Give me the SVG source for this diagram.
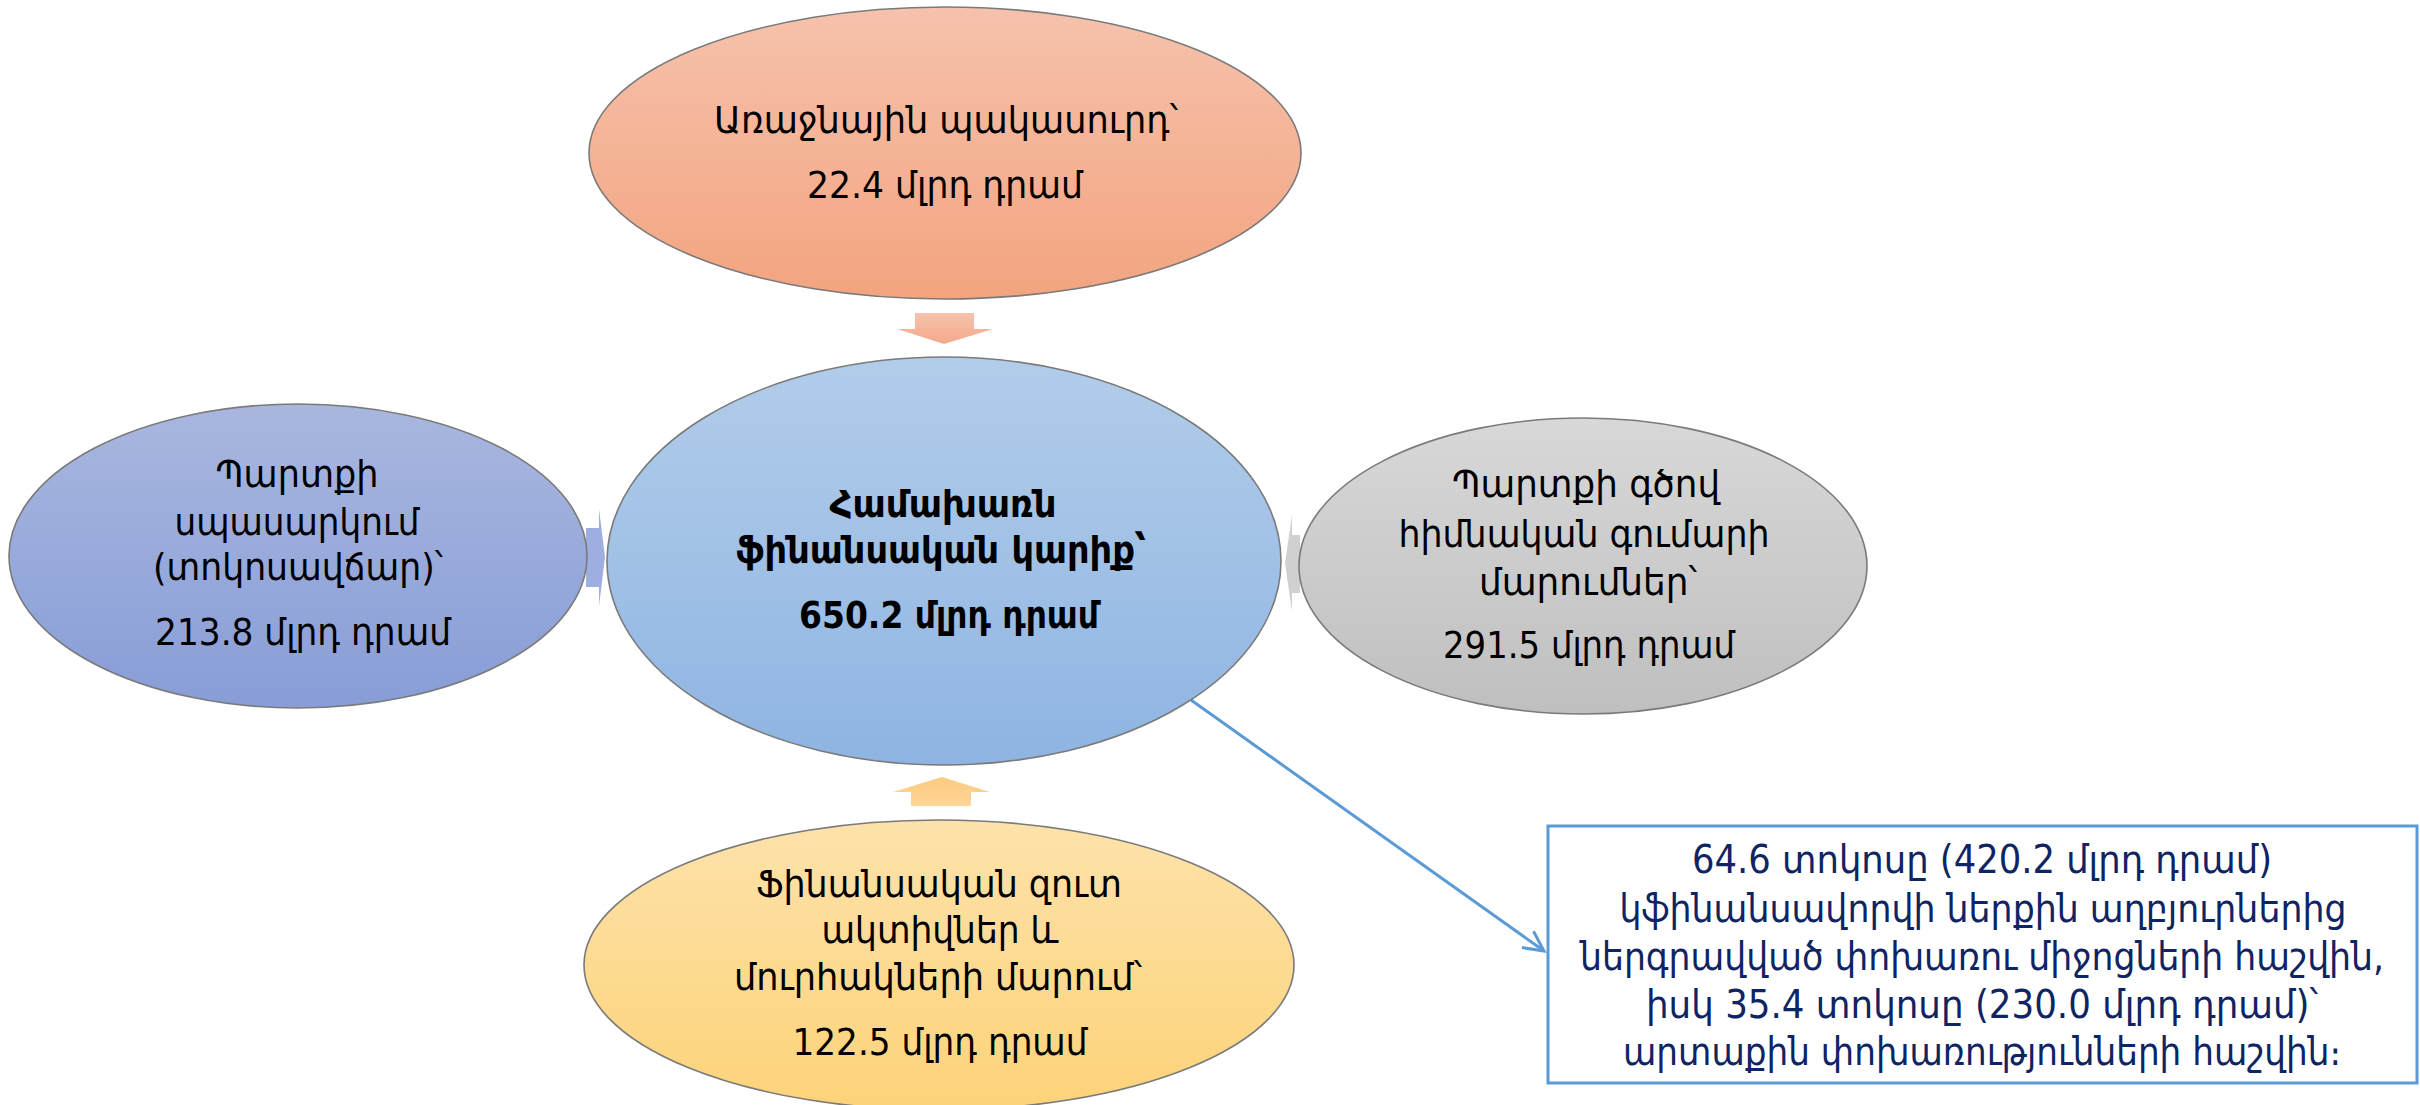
<svg xmlns="http://www.w3.org/2000/svg" width="2420" height="1105" viewBox="0 0 2420 1105">
<style>
.el{stroke:#7a7a7a;stroke-width:1.6}
.t{font-family:"DejaVu Sans Condensed","DejaVu Sans","Noto Sans",sans-serif;text-anchor:middle;fill:#000;font-size:38px}
.b{font-family:"DejaVu Sans","Noto Sans",sans-serif;font-weight:bold;font-style:normal}
.bx{fill:#0f2463;font-size:39px}
.con{stroke:#5b9bd5;stroke-width:3;fill:none}
</style>
<defs>
<linearGradient id="gTop" x1="0" y1="0" x2="0" y2="1"><stop offset="0" stop-color="#f6c2ad"/><stop offset="1" stop-color="#f3a47f"/></linearGradient>
<linearGradient id="gCen" x1="0" y1="0" x2="0" y2="1"><stop offset="0" stop-color="#b2cdea"/><stop offset="1" stop-color="#8fb4e2"/></linearGradient>
<linearGradient id="gLeft" x1="0" y1="0" x2="0" y2="1"><stop offset="0" stop-color="#a9b7df"/><stop offset="1" stop-color="#889dd7"/></linearGradient>
<linearGradient id="gRight" x1="0" y1="0" x2="0" y2="1"><stop offset="0" stop-color="#d8d8d8"/><stop offset="1" stop-color="#bfbfbf"/></linearGradient>
<linearGradient id="gBot" x1="0" y1="0" x2="0" y2="1"><stop offset="0" stop-color="#fde2ab"/><stop offset="1" stop-color="#fdd379"/></linearGradient>
<linearGradient id="gAT" x1="0" y1="0" x2="0" y2="1"><stop offset="0" stop-color="#f7c3ad"/><stop offset="1" stop-color="#f4a98a"/></linearGradient>
<linearGradient id="gAB" x1="0" y1="0" x2="0" y2="1"><stop offset="0" stop-color="#fcca80"/><stop offset="1" stop-color="#fdd696"/></linearGradient>
<marker id="ah" markerUnits="userSpaceOnUse" markerWidth="30" markerHeight="30" refX="22" refY="12" orient="auto" viewBox="0 0 30 24">
<path d="M2,2 L22,12 L2,22" fill="none" stroke="#5b9bd5" stroke-width="3"/>
</marker>
</defs>

<g id="arrows">
<polygon points="915,313 974,313 974,329 993,329 944,344 897,329 915,329" fill="url(#gAT)"/>
<polygon points="911,806 971,806 971,792 990,792 942,777 893,792 911,792" fill="url(#gAB)"/>
<polygon points="586,528 599,528 599,509 605,557 599,606 599,587 586,587" fill="#9eaee0"/>
<polygon points="1300,535 1292,535 1292,515 1285,563 1292,612 1292,593 1300,593" fill="#d0d0d0"/>
</g>

<g id="connectors">
<line class="con" x1="1191" y1="700" x2="1544" y2="951" marker-end="url(#ah)"/>
</g>

<g id="node-top">
<ellipse class="el" cx="945" cy="153" rx="356" ry="146" fill="url(#gTop)"/>
<text class="t" x="946" y="133" font-size="40" textLength="464" lengthAdjust="spacingAndGlyphs">Առաջնային պակասուրդ՝</text>
<text class="t" x="945" y="198" font-size="40" textLength="276" lengthAdjust="spacingAndGlyphs">22.4 մլրդ դրամ</text>
</g>

<g id="node-left">
<ellipse class="el" cx="298" cy="556" rx="289" ry="152" fill="url(#gLeft)"/>
<text class="t" x="297" y="487" textLength="163" lengthAdjust="spacingAndGlyphs">Պարտքի</text>
<text class="t" x="297" y="535" textLength="245" lengthAdjust="spacingAndGlyphs">սպասարկում</text>
<text class="t" x="298" y="580" textLength="290" lengthAdjust="spacingAndGlyphs">(տոկոսավճար)՝</text>
<text class="t" x="303" y="645" textLength="296" lengthAdjust="spacingAndGlyphs">213.8 մլրդ դրամ</text>
</g>

<g id="node-center">
<ellipse class="el" cx="944" cy="561" rx="337" ry="204" fill="url(#gCen)"/>
<text class="t b" x="943" y="517" textLength="227" lengthAdjust="spacingAndGlyphs">Համախառն</text>
<text class="t b" x="941" y="563" textLength="410" lengthAdjust="spacingAndGlyphs">ֆինանսական կարիք՝</text>
<text class="t b" x="949" y="628" textLength="300" lengthAdjust="spacingAndGlyphs">650.2 մլրդ դրամ</text>
</g>

<g id="node-right">
<ellipse class="el" cx="1583" cy="566" rx="284" ry="148" fill="url(#gRight)"/>
<text class="t" x="1586" y="497" textLength="268" lengthAdjust="spacingAndGlyphs">Պարտքի գծով</text>
<text class="t" x="1584" y="547" textLength="371" lengthAdjust="spacingAndGlyphs">հիմնական գումարի</text>
<text class="t" x="1588" y="595" textLength="218" lengthAdjust="spacingAndGlyphs">մարումներ՝</text>
<text class="t" x="1589" y="658" textLength="292" lengthAdjust="spacingAndGlyphs">291.5 մլրդ դրամ</text>
</g>

<g id="node-bottom">
<ellipse class="el" cx="939" cy="965" rx="355" ry="145" fill="url(#gBot)"/>
<text class="t" x="939" y="897" textLength="366" lengthAdjust="spacingAndGlyphs">Ֆինանսական զուտ</text>
<text class="t" x="940" y="943" textLength="237" lengthAdjust="spacingAndGlyphs">ակտիվներ և</text>
<text class="t" x="938" y="990" textLength="408" lengthAdjust="spacingAndGlyphs">մուրհակների մարում՝</text>
<text class="t" x="940" y="1055" textLength="295" lengthAdjust="spacingAndGlyphs">122.5 մլրդ դրամ</text>
</g>

<g id="node-note">
<rect x="1548" y="826" width="869" height="257" fill="#ffffff" stroke="#5b9bd5" stroke-width="3"/>
<text class="t bx" x="1982" y="873" textLength="580" lengthAdjust="spacingAndGlyphs">64.6 տոկոսը (420.2 մլրդ դրամ)</text>
<text class="t bx" x="1983" y="922" textLength="727" lengthAdjust="spacingAndGlyphs">կֆինանսավորվի ներքին աղբյուրներից</text>
<text class="t bx" x="1982" y="970" textLength="804" lengthAdjust="spacingAndGlyphs">ներգրավված փոխառու միջոցների հաշվին,</text>
<text class="t bx" x="1982" y="1018" textLength="672" lengthAdjust="spacingAndGlyphs">իսկ 35.4 տոկոսը (230.0 մլրդ դրամ)՝</text>
<text class="t bx" x="1982" y="1065" textLength="718" lengthAdjust="spacingAndGlyphs">արտաքին փոխառությունների հաշվին։</text>
</g>
</svg>
